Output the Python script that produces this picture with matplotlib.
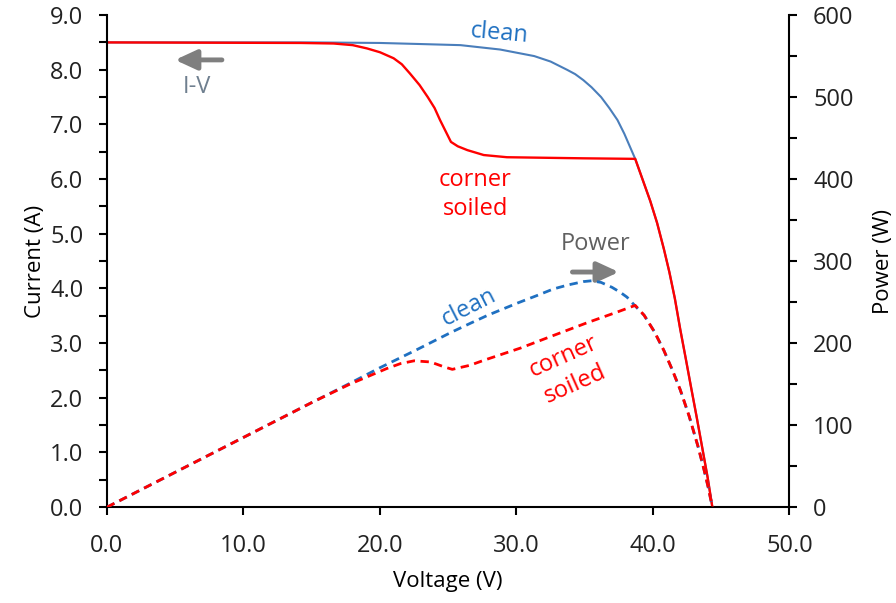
import matplotlib.pyplot as plt
from matplotlib.ticker import MultipleLocator, FormatStrFormatter

plt.rcParams['font.family'] = ['Open Sans', 'DejaVu Sans']

# I-V curve, clean module
v_clean = [0, 5, 10, 15, 20, 23, 25.9, 28.8, 31.3, 32.5, 33.7, 34.3, 34.9, 35.5, 36.2,
           36.8, 37.4, 37.9, 38.3, 38.7, 39.2, 39.8, 40.3, 40.8, 41.2, 41.6, 42.0,
           42.4, 42.8, 43.2, 43.6, 44.0, 44.35]
i_clean = [8.5, 8.5, 8.5, 8.5, 8.49, 8.47, 8.45, 8.37, 8.25, 8.15, 8.0, 7.92, 7.81, 7.68, 7.5,
           7.3, 7.08, 6.83, 6.6, 6.37, 6.02, 5.6, 5.2, 4.72, 4.3, 3.82, 3.25,
           2.72, 2.18, 1.65, 1.1, 0.55, 0.0]

# I-V curve, corner soiled
v_soiled = [0, 14.2, 16.6, 18.0, 19.05, 20.0, 21.0, 21.6, 22.2, 22.9, 23.5, 24.0, 24.4,
            24.8, 25.2, 25.7, 26.4, 27.6, 29.3, 34.9, 38.7, 39.2, 39.8, 40.3, 40.8,
            41.2, 41.6, 42.0, 42.4, 42.8, 43.2, 43.6, 44.0, 44.35]
i_soiled = [8.5, 8.49, 8.48, 8.45, 8.39, 8.32, 8.21, 8.1, 7.93, 7.72, 7.5, 7.3, 7.08,
            6.88, 6.68, 6.6, 6.53, 6.44, 6.40, 6.38, 6.37, 6.02, 5.6, 5.2, 4.72,
            4.3, 3.82, 3.25, 2.72, 2.18, 1.65, 1.1, 0.55, 0.0]

# power curves (W)
vp_clean = [0, 5, 10, 15, 17.8, 20, 22.7, 25.2, 26.6, 27.9, 30.1, 31.5, 32.7, 33.8,
            34.9, 35.5, 36.2, 37.0, 37.6, 38.1, 38.6, 39.35, 40.1, 40.8, 41.4, 42.0,
            42.65, 43.3, 43.75, 44.05, 44.35]
p_clean = [0, 42.5, 85, 127.5, 151, 170, 192, 213, 224, 234, 249, 258, 266, 271,
           275, 276, 274, 268, 262, 256, 247, 234, 214, 191, 168, 143,
           111, 74, 45, 24, 0]

vp_soiled = [0, 5, 10, 15, 17.8, 20.5, 21.5, 22.5, 23.7, 24.7, 25.3, 26.6, 27.6, 30.3,
             32.5, 35.2, 37.4, 38.7, 39.35, 40.1, 40.8, 41.4, 42.0, 42.65, 43.3,
             43.75, 44.05, 44.35]
p_soiled = [0, 42.5, 85, 127.5, 150, 169, 175, 178.4, 177, 171, 168, 173, 179, 194,
            208, 225, 238, 246, 234, 214, 191, 168, 143, 111, 74,
            45, 24, 0]

RED = '#FF0000'
BLUE_SOLID = '#4A7EBB'
BLUE = '#1F70C1'
GRAY = '#7F7F7F'

fig = plt.figure(figsize=(8.96, 6.03), dpi=100)
ax = fig.add_axes([0.1194, 0.159, 0.7617, 0.816])
ax2 = ax.twinx()

ax.plot(v_clean, i_clean, color=BLUE_SOLID, lw=1.5)
ax.plot(v_soiled, i_soiled, color=RED, lw=1.7)
ax2.plot(vp_clean, p_clean, color=BLUE, lw=2, dashes=(3, 2))
ax2.plot(vp_soiled, p_soiled, color=RED, lw=2, dashes=(3, 2))

ax.set_xlim(0, 50)
ax.set_ylim(0, 9)
ax2.set_ylim(0, 600)

ax.xaxis.set_major_locator(MultipleLocator(10))
ax.xaxis.set_major_formatter(FormatStrFormatter('%.1f'))
ax.yaxis.set_major_locator(MultipleLocator(1))
ax.yaxis.set_minor_locator(MultipleLocator(0.5))
ax.yaxis.set_major_formatter(FormatStrFormatter('%.1f'))
ax2.yaxis.set_major_locator(MultipleLocator(100))
ax2.yaxis.set_minor_locator(MultipleLocator(50))

for a in (ax, ax2):
    a.spines['top'].set_visible(False)
    for s in a.spines.values():
        s.set_linewidth(1.5)
    a.tick_params(which='both', length=6, width=1.5, labelsize=17, pad=11,
                  color='black', labelcolor='#222222')
ax.tick_params(axis='x', pad=13)
ax.spines['right'].set_visible(False)
ax2.spines['left'].set_visible(False)
ax2.spines['bottom'].set_visible(False)

ax.set_xlabel('Voltage (V)', fontsize=16, labelpad=10)
ax.set_ylabel('Current (A)', fontsize=16, labelpad=3)
ax2.set_ylabel('Power (W)', fontsize=16, labelpad=14)

# annotations
arrow = dict(arrowstyle='-|>,head_length=1.3,head_width=0.6', lw=3.5,
             color=GRAY, shrinkA=0, shrinkB=0, mutation_scale=10)
ax.annotate('', xy=(4.99, 8.18), xytext=(8.42, 8.18), arrowprops=arrow)
ax.text(6.58, 7.69, 'I-V', color='#6F7F8F', fontsize=17, ha='center', va='center')
ax.annotate('', xy=(37.5, 4.30), xytext=(34.1, 4.30), arrowprops=arrow)
ax.text(35.8, 4.82, 'Power', color='#606060', fontsize=17, ha='center', va='center')

ax.text(28.76, 8.67, 'clean', color=BLUE, fontsize=17, ha='center', va='center',
        rotation=-5, rotation_mode='anchor')
ax.text(27.0, 5.72, 'corner\nsoiled', color=RED, fontsize=17, ha='center',
        va='center', linespacing=1.3)
ax.text(26.5, 3.66, 'clean', color=BLUE, fontsize=17, ha='center', va='center',
        rotation=27, rotation_mode='anchor')
ax.text(33.85, 2.5, 'corner\nsoiled', color=RED, fontsize=17, ha='center',
        va='center', rotation=24, rotation_mode='anchor', linespacing=1.3)

fig.savefig('out.png', dpi=100)
